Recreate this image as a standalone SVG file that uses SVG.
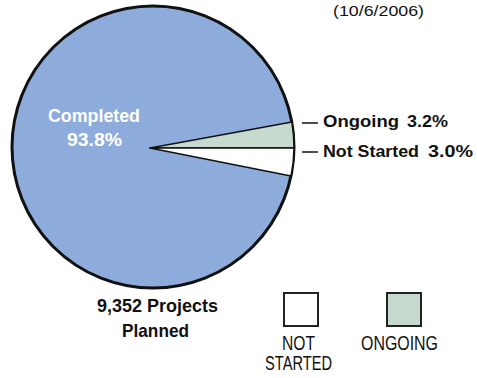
<svg xmlns="http://www.w3.org/2000/svg" width="477" height="378" viewBox="0 0 477 378">
<style>
.b{font-family:"Liberation Sans",Arial,sans-serif;font-weight:bold;fill:#111}
.n{font-family:"Liberation Sans",Arial,sans-serif;fill:#111}
.w{fill:#fff}
.sl{stroke:#111;stroke-width:1.5;stroke-linejoin:round}
.box{stroke:#222;stroke-width:2}
</style>
<rect width="477" height="378" fill="#fff"/>
<text class="n" x="333" y="16" font-size="15" textLength="91" lengthAdjust="spacingAndGlyphs">(10/6/2006)</text>
<g id="pie">
<circle cx="153" cy="147" r="141" fill="#8eacdb" stroke="#111" stroke-width="3"/>
</g>
<g id="ongoing">
<path class="sl" d="M150,148 L294,148 A141,141 0 0,0 291.8,122 Z" fill="#c5d9ce"/>
</g>
<g id="notstarted">
<path class="sl" d="M150,148 L291,176 A141,141 0 0,0 294,148 Z" fill="#fff"/>
</g>
<g id="labels-pie">
<text class="b w" x="48" y="122" font-size="19" textLength="92" lengthAdjust="spacingAndGlyphs">Completed</text>
<text class="b w" x="67" y="146" font-size="18" textLength="55" lengthAdjust="spacingAndGlyphs">93.8%</text>
</g>
<g id="connectors">
<line x1="302" y1="123" x2="318" y2="123" stroke="#111" stroke-width="1.5"/>
<line x1="302" y1="152" x2="318" y2="152" stroke="#111" stroke-width="1.5"/>
</g>
<g id="label-ongoing">
<text class="b" x="323" y="127" font-size="17" textLength="76" lengthAdjust="spacingAndGlyphs">Ongoing</text>
<text class="b" x="407" y="127" font-size="17" textLength="41" lengthAdjust="spacingAndGlyphs">3.2%</text>
</g>
<g id="label-notstarted">
<text class="b" x="323" y="157" font-size="17" textLength="96" lengthAdjust="spacingAndGlyphs">Not Started</text>
<text class="b" x="428" y="157" font-size="17" textLength="45" lengthAdjust="spacingAndGlyphs">3.0%</text>
</g>
<g id="total">
<text class="b" x="97" y="312" font-size="19" textLength="121" lengthAdjust="spacingAndGlyphs">9,352 Projects</text>
<text class="b" x="122" y="337" font-size="19" textLength="67" lengthAdjust="spacingAndGlyphs">Planned</text>
</g>
<g id="legend-notstarted">
<rect class="box" x="284" y="293" width="34" height="33" fill="#fff"/>
<text class="n" x="282" y="350" font-size="20" textLength="33" lengthAdjust="spacingAndGlyphs">NOT</text>
<text class="n" x="265" y="370" font-size="20" textLength="67" lengthAdjust="spacingAndGlyphs">STARTED</text>
</g>
<g id="legend-ongoing">
<rect class="box" x="387" y="293" width="34" height="33" fill="#c5d9ce"/>
<text class="n" x="361" y="350" font-size="20" textLength="77" lengthAdjust="spacingAndGlyphs">ONGOING</text>
</g>
</svg>
